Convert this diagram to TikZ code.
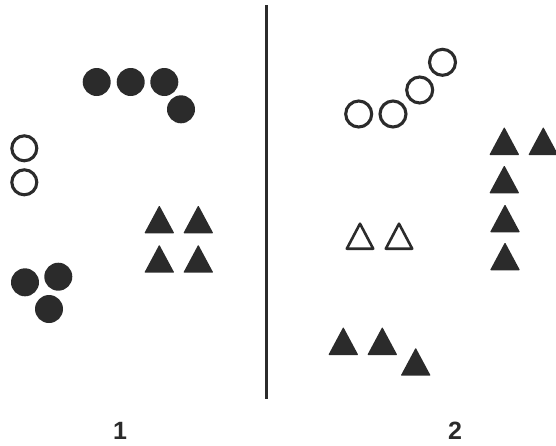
\documentclass[tikz,border=0pt]{standalone}
\usepackage{fontspec}
\setmainfont{Liberation Sans}
\definecolor{ink}{HTML}{2B2B2B}
\begin{document}
\begin{tikzpicture}[x=1pt,y=-1pt,
  fdot/.style={circle,fill=ink,minimum size=28pt,inner sep=0pt},
  odot/.style={circle,draw=ink,line width=3.1pt,minimum size=25pt,inner sep=0pt},
  ftri/.pic={\fill[ink,rounded corners=0.8pt] (-15,0) -- (0,-28) -- (15,0) -- cycle;},
  otri/.pic={\draw[ink,line width=2.6pt,line join=round] (-13.2,-1.3) -- (0,-26.3) -- (13.2,-1.3) -- cycle;},
  lbl/.style={font=\bfseries\fontsize{25}{25}\selectfont,text=ink,inner sep=0pt}]
\useasboundingbox (0,0) rectangle (556,445);
% divider
\coordinate (top) at (266.5,5);
\coordinate (bot) at (266.5,399);
\draw[ink,line width=2.8pt] (top) -- (bot);
% panel 1
\node[fdot] (a1) at (96.7,82) {};
\node[fdot] (a2) at (130.7,82) {};
\node[fdot] (a3) at (164.3,82) {};
\node[fdot] (a4) at (181,109.3) {};
\node[odot] (b1) at (24.3,148.3) {};
\node[odot] (b2) at (24.3,182.3) {};
\node[fdot] (c1) at (25,282.3) {};
\node[fdot] (c2) at (58.3,276.7) {};
\node[fdot] (c3) at (49,309) {};
\pic at (159.3,233.3) {ftri};
\pic at (198.3,233.3) {ftri};
\pic at (159.3,272.7) {ftri};
\pic at (198.3,272.7) {ftri};
% panel 2
\node[odot,minimum size=26pt] (d1) at (358.7,114) {};
\node[odot,minimum size=26pt] (d2) at (393,114) {};
\node[odot,minimum size=26pt] (d3) at (419.7,90) {};
\node[odot,minimum size=26pt] (d4) at (442.5,62.3) {};
\pic at (504.3,155) {ftri};
\pic at (543.3,155) {ftri};
\pic at (504.3,193.3) {ftri};
\pic at (505,232.3) {ftri};
\pic at (505,270.3) {ftri};
\pic at (360,250) {otri};
\pic at (399,250) {otri};
\pic at (343.3,355) {ftri};
\pic at (382.3,355) {ftri};
\pic at (415.7,375.7) {ftri};
% labels
\node[lbl] (l1) at (120,430.5) {1};
\node[lbl] (l2) at (455,430.5) {2};
\end{tikzpicture}
\end{document}
